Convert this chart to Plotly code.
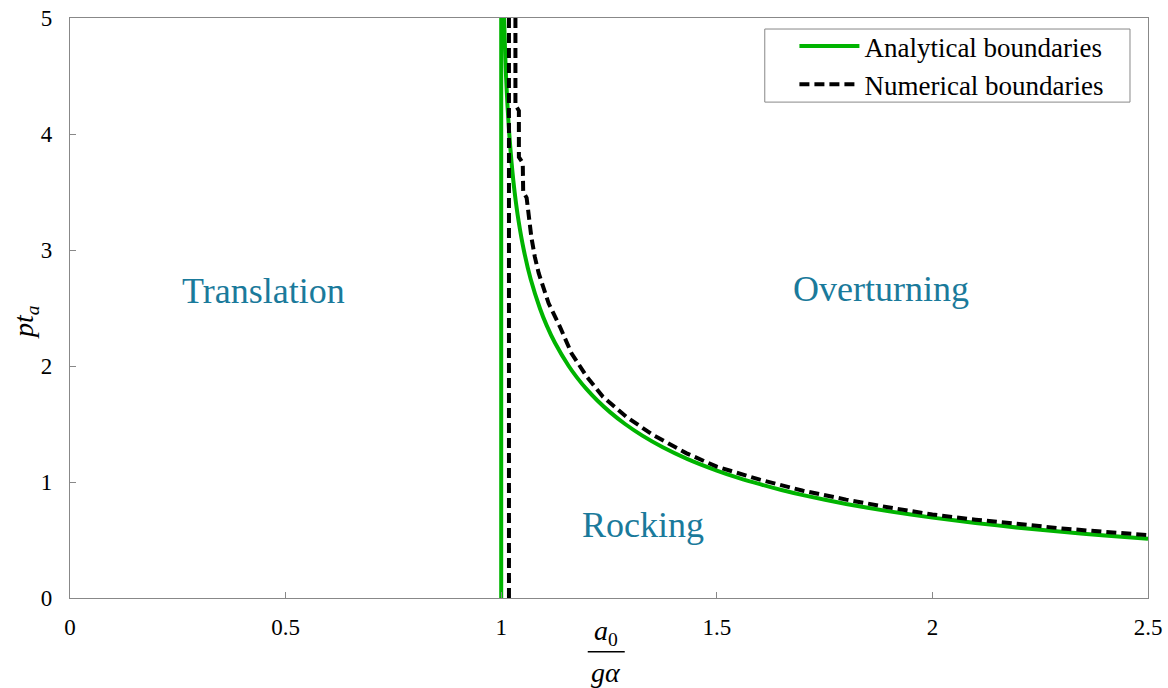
import plotly.graph_objects as go

# Analytical boundaries (vertical line at x=1, then the curve)
ana_vert_x = [1.0, 1.0]
ana_vert_y = [0.0, 5.0]
ana_x = [1.0068, 1.0087, 1.0112, 1.0145, 1.0187, 1.0241, 1.0311, 1.0403, 1.0524, 1.0683,
         1.0895, 1.1054, 1.1246, 1.1565, 1.1759, 1.198, 1.2235, 1.253, 1.2872, 1.3273,
         1.3747, 1.431, 1.5, 1.55, 1.6, 1.65, 1.7, 1.8, 1.9, 2.0, 2.1, 2.2, 2.3, 2.4, 2.5]
ana_y = [5.0, 4.75, 4.5, 4.25, 4.0, 3.75, 3.5, 3.25, 3.0, 2.75,
         2.5, 2.35, 2.2, 2.0, 1.9, 1.8, 1.7, 1.6, 1.5, 1.4,
         1.3, 1.2, 1.099, 1.036, 0.981, 0.931, 0.887, 0.811, 0.747, 0.693, 0.647, 0.606, 0.571, 0.539, 0.511]

# Numerical boundaries
num_vert_x = [1.018, 1.018]
num_vert_y = [0.0, 5.0]
num_x = [1.033, 1.033, 1.041, 1.041, 1.050, 1.051, 1.059, 1.063, 1.070, 1.078, 1.087, 1.110,
         1.136, 1.163, 1.198, 1.236, 1.290, 1.352, 1.430, 1.500, 1.55, 1.6, 1.7, 1.8, 1.9,
         2.0, 2.1, 2.2, 2.3, 2.4, 2.5]
num_y = [5.0, 4.25, 4.2, 3.8, 3.75, 3.5, 3.45, 3.32, 3.11, 2.94, 2.80, 2.54,
         2.34, 2.11, 1.91, 1.735, 1.563, 1.405, 1.247, 1.132, 1.074, 1.02, 0.925, 0.848, 0.78,
         0.72, 0.675, 0.636, 0.60, 0.57, 0.543]

region_labels = ["Translation", "Overturning", "Rocking"]
region_x = [0.449, 1.880, 1.328]
region_y = [2.647, 2.664, 0.629]

x_ticks = [0, 0.5, 1, 1.5, 2, 2.5]
y_ticks = [0, 1, 2, 3, 4, 5]

GREEN = "rgb(0,180,0)"
TEAL = "#1a7a9b"
FONT = "Liberation Serif"

fig = go.Figure()
fig.add_trace(go.Scatter(x=ana_vert_x + [None] + ana_x, y=ana_vert_y + [None] + ana_y,
                         mode="lines", line=dict(color=GREEN, width=4, shape="spline", smoothing=0.6),
                         name="Analytical boundaries"))
fig.add_trace(go.Scatter(x=num_vert_x + [None] + num_x, y=num_vert_y + [None] + num_y,
                         mode="lines", line=dict(color="black", width=4, dash="10px,5px"),
                         name="Numerical boundaries"))

for t, xx, yy in zip(region_labels, region_x, region_y):
    fig.add_annotation(x=xx, y=yy, xref="x", yref="y", text=t, showarrow=False,
                       font=dict(family=FONT, size=36, color=TEAL))

# x-axis title as a fraction a0 / (g alpha)
fig.add_annotation(x=1.2425, y=-0.0603, xref="x", yref="paper", text="<i>a</i><sub>0</sub>",
                   showarrow=False, yanchor="middle", font=dict(family=FONT, size=28, color="black"))
fig.add_annotation(x=1.2425, y=-0.1293, xref="x", yref="paper", text="<i>gα</i>",
                   showarrow=False, yanchor="middle", font=dict(family=FONT, size=28, color="black"))
fig.add_shape(type="line", xref="x", yref="paper", x0=1.2007, x1=1.2865, y0=-0.0926, y1=-0.0926,
              line=dict(color="black", width=1.5))
# y-axis title
fig.add_annotation(x=0, xref="paper", xanchor="center", xshift=-44, y=2.38, yref="y",
                   text="<i>pt</i><sub><i>a</i></sub>", textangle=-90, showarrow=False,
                   font=dict(family=FONT, size=28, color="black"))

# legend frame
fig.add_shape(type="rect", xref="paper", yref="paper", x0=0.6445, x1=0.9833, y0=0.855, y1=0.981,
              line=dict(color="#888888", width=1), fillcolor="white", layer="below")

axis_common = dict(showgrid=False, zeroline=False, showline=True, mirror=True, automargin=False,
                   linecolor="#888888", linewidth=1.2, ticks="inside", ticklen=6,
                   tickcolor="#888888", tickwidth=1, ticklabeloverflow="allow",
                   tickfont=dict(family=FONT, size=23, color="black"))
fig.update_xaxes(range=[0, 2.5], tickvals=x_ticks, ticktext=[str(v) for v in x_ticks],
                 ticklabelstandoff=8, **axis_common)
fig.update_yaxes(range=[0, 5], tickvals=y_ticks, ticktext=[str(v) for v in y_ticks],
                 ticklabelstandoff=12, **axis_common)

fig.update_layout(
    width=1168, height=688,
    margin=dict(l=70, r=20, t=18, b=90),
    paper_bgcolor="white", plot_bgcolor="white",
    font=dict(family=FONT, color="black"),
    showlegend=True,
    legend=dict(x=0.672, y=0.993, xanchor="left", yanchor="top",
                bgcolor="rgba(0,0,0,0)", borderwidth=0,
                font=dict(family=FONT, size=27, color="black"),
                tracegroupgap=0, itemwidth=60),
)

fig.write_html("out.html", config={"displayModeBar": False},
               post_script="document.body.style.margin='0';document.body.style.overflow='hidden';")
